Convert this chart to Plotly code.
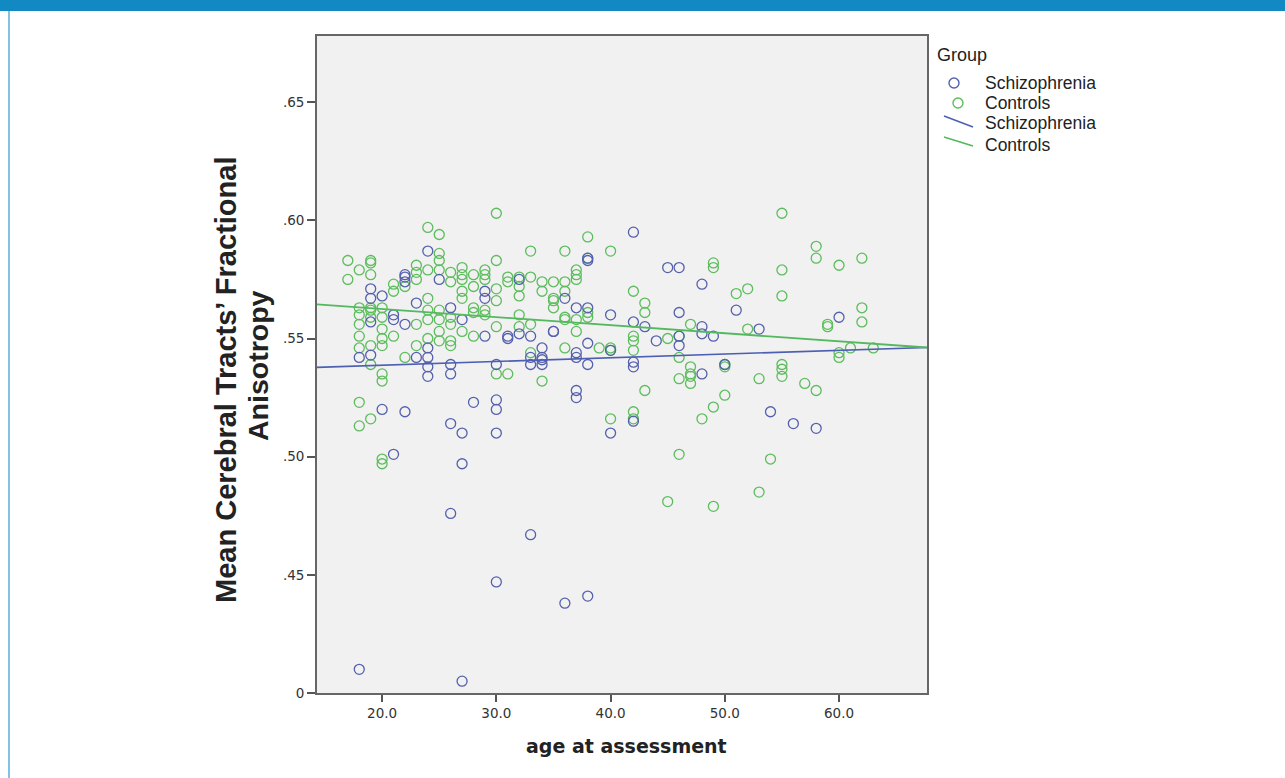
import plotly.graph_objects as go

# ---------------- data ----------------
schiz_age = [18, 18,
             19, 19, 19, 19,
             20, 20,
             21, 21, 21,
             22, 22, 22, 22, 22,
             23, 23,
             24, 24, 24, 24, 24,
             25,
             26, 26, 26, 26, 26,
             27, 27, 27, 27,
             28,
             29, 29, 29,
             30, 30, 30, 30, 30,
             31, 31,
             32, 32,
             33, 33, 33, 33,
             34, 34, 34, 34,
             35, 35,
             36, 36,
             37, 37, 37, 37, 37,
             38, 38, 38, 38, 38, 38,
             40, 40, 40,
             42, 42, 42, 42, 42,
             43, 44, 45,
             46, 46, 46, 46,
             48, 48, 48, 48,
             49, 50, 51, 53, 54, 56, 58, 60]
schiz_fa = [0.542, 0.410,
            0.571, 0.567, 0.557, 0.543,
            0.568, 0.520,
            0.560, 0.558, 0.501,
            0.577, 0.576, 0.574, 0.556, 0.519,
            0.565, 0.542,
            0.587, 0.546, 0.542, 0.538, 0.534,
            0.575,
            0.563, 0.539, 0.535, 0.514, 0.476,
            0.558, 0.510, 0.497, 0.405,
            0.523,
            0.570, 0.567, 0.551,
            0.539, 0.524, 0.520, 0.510, 0.447,
            0.551, 0.550,
            0.575, 0.552,
            0.551, 0.542, 0.539, 0.467,
            0.546, 0.542, 0.541, 0.539,
            0.553, 0.553,
            0.567, 0.438,
            0.563, 0.544, 0.542, 0.528, 0.525,
            0.583, 0.584, 0.563, 0.548, 0.539, 0.441,
            0.560, 0.545, 0.510,
            0.595, 0.557, 0.540, 0.538, 0.515,
            0.555, 0.549, 0.580,
            0.580, 0.561, 0.551, 0.547,
            0.573, 0.555, 0.552, 0.535,
            0.551, 0.539, 0.562, 0.554, 0.519, 0.514, 0.512, 0.559]

ctrl_age = [17, 17,
            18, 18, 18, 18, 18, 18, 18, 18,
            19, 19, 19, 19, 19, 19, 19, 19, 19,
            20, 20, 20, 20, 20, 20, 20, 20, 20,
            21, 21, 21,
            22, 22,
            23, 23, 23, 23, 23,
            24, 24, 24, 24, 24, 24,
            25, 25, 25, 25, 25, 25, 25, 25,
            26, 26, 26, 26, 26, 26,
            27, 27, 27, 27, 27, 27,
            28, 28, 28, 28, 28,
            29, 29, 29, 29, 29,
            30, 30, 30, 30, 30, 30,
            31, 31, 31,
            32, 32, 32, 32, 32,
            33, 33, 33, 33,
            34, 34, 34,
            35, 35, 35, 35,
            36, 36, 36, 36, 36, 36,
            37, 37, 37, 37, 37,
            38, 38, 38, 38,
            39,
            40, 40, 40, 40,
            42, 42, 42, 42, 42, 42,
            43, 43, 43,
            45, 45,
            46, 46, 46, 46,
            47, 47, 47, 47, 47,
            48,
            49, 49, 49, 49,
            50, 50, 50,
            51,
            52, 52,
            53, 53,
            54,
            55, 55, 55, 55, 55, 55,
            57,
            58, 58, 58,
            59, 59,
            60, 60, 60,
            61,
            62, 62, 62,
            63]
ctrl_fa = [0.583, 0.575,
           0.579, 0.563, 0.560, 0.556, 0.551, 0.546, 0.523, 0.513,
           0.583, 0.582, 0.577, 0.563, 0.562, 0.559, 0.547, 0.539, 0.516,
           0.563, 0.559, 0.554, 0.550, 0.547, 0.535, 0.532, 0.499, 0.497,
           0.573, 0.570, 0.551,
           0.572, 0.542,
           0.581, 0.578, 0.575, 0.556, 0.547,
           0.597, 0.579, 0.567, 0.562, 0.558, 0.550,
           0.594, 0.586, 0.583, 0.579, 0.562, 0.558, 0.553, 0.549,
           0.578, 0.574, 0.559, 0.556, 0.549, 0.547,
           0.580, 0.577, 0.575, 0.570, 0.567, 0.553,
           0.577, 0.572, 0.563, 0.561, 0.551,
           0.579, 0.577, 0.575, 0.562, 0.560,
           0.603, 0.583, 0.571, 0.566, 0.555, 0.535,
           0.576, 0.574, 0.535,
           0.576, 0.572, 0.568, 0.560, 0.555,
           0.587, 0.576, 0.556, 0.544,
           0.574, 0.570, 0.532,
           0.574, 0.567, 0.566, 0.563,
           0.587, 0.574, 0.570, 0.559, 0.558, 0.546,
           0.579, 0.577, 0.575, 0.558, 0.553,
           0.593, 0.584, 0.561, 0.559,
           0.546,
           0.587, 0.546, 0.545, 0.516,
           0.570, 0.551, 0.549, 0.545, 0.519, 0.516,
           0.565, 0.561, 0.528,
           0.550, 0.481,
           0.551, 0.542, 0.533, 0.501,
           0.556, 0.538, 0.535, 0.534, 0.531,
           0.516,
           0.582, 0.580, 0.521, 0.479,
           0.539, 0.538, 0.526,
           0.569,
           0.571, 0.554,
           0.533, 0.485,
           0.499,
           0.603, 0.579, 0.568, 0.539, 0.537, 0.534,
           0.531,
           0.589, 0.584, 0.528,
           0.556, 0.555,
           0.581, 0.544, 0.542,
           0.546,
           0.584, 0.563, 0.557,
           0.546]

# fit lines (linear fits per group, read at the axis ends)
fit_age = [14.3, 67.7]
schiz_fit = [0.5378, 0.5462]
ctrl_fit = [0.5644, 0.5462]

x_ticks = [20, 30, 40, 50, 60]
x_ticktext = ["20.0", "30.0", "40.0", "50.0", "60.0"]
y_ticks = [0.40, 0.45, 0.50, 0.55, 0.60, 0.65]
y_ticktext = ["0", ".45", ".50", ".55", ".60", ".65"]

group_labels = ["Schizophrenia", "Controls"]

# ---------------- styling ----------------
W, H = 1285, 778
L, R, T, B = 317, 927, 36, 693
BLUE = "#5560ad"
GREEN = "#5cbd5c"
BLUE_LINE = "#4d5fb3"
GREEN_LINE = "#52b95e"


def pxx(x):
    return (x - L) / (R - L)


def pxy(y):
    return (B - y) / (B - T)


fig = go.Figure()

fig.add_trace(go.Scatter(x=ctrl_age, y=ctrl_fa, mode="markers",
                         marker=dict(symbol="circle-open", size=10, color=GREEN,
                                     line=dict(width=1.3, color=GREEN)),
                         showlegend=False))
fig.add_trace(go.Scatter(x=schiz_age, y=schiz_fa, mode="markers",
                         marker=dict(symbol="circle-open", size=10, color=BLUE,
                                     line=dict(width=1.3, color=BLUE)),
                         showlegend=False))
fig.add_trace(go.Scatter(x=fit_age, y=schiz_fit, mode="lines",
                         line=dict(color=BLUE_LINE, width=1.6), showlegend=False))
fig.add_trace(go.Scatter(x=fit_age, y=ctrl_fit, mode="lines",
                         line=dict(color=GREEN_LINE, width=1.8), showlegend=False))

shapes = []
# header band
shapes.append(dict(type="rect", xref="paper", yref="paper",
                   x0=pxx(0), x1=pxx(W), y0=pxy(0), y1=pxy(11),
                   fillcolor="#1289c3", line=dict(width=0), layer="above"))
# left frame border
shapes.append(dict(type="line", xref="paper", yref="paper",
                   x0=pxx(9), x1=pxx(9), y0=pxy(11), y1=pxy(H),
                   line=dict(color="#5aaede", width=1.5)))

annotations = []
# legend
annotations.append(dict(text="Group", x=pxx(935), y=pxy(55), xref="paper", yref="paper",
                        xanchor="left", yanchor="middle", showarrow=False,
                        font=dict(family="Liberation Sans, Arial", size=18, color="#222")))
leg_y = [83, 103, 123, 145]
leg_txt = [group_labels[0], group_labels[1], group_labels[0], group_labels[1]]
for yy, tt in zip(leg_y, leg_txt):
    annotations.append(dict(text=tt, x=pxx(983), y=pxy(yy), xref="paper", yref="paper",
                            xanchor="left", yanchor="middle", showarrow=False,
                            font=dict(family="Liberation Sans, Arial", size=17.5, color="#222")))
# legend symbols
for cx, cy, col in [(954, 83, BLUE), (958, 103, GREEN)]:
    shapes.append(dict(type="circle", xref="paper", yref="paper",
                       xsizemode="pixel", ysizemode="pixel",
                       xanchor=pxx(cx), yanchor=pxy(cy),
                       x0=-5, x1=5, y0=-5, y1=5,
                       line=dict(color=col, width=1.4)))
shapes.append(dict(type="line", xref="paper", yref="paper",
                   x0=pxx(944), x1=pxx(973), y0=pxy(116), y1=pxy(127),
                   line=dict(color=BLUE_LINE, width=1.6)))
shapes.append(dict(type="line", xref="paper", yref="paper",
                   x0=pxx(944), x1=pxx(973), y0=pxy(137), y1=pxy(146),
                   line=dict(color=GREEN_LINE, width=1.6)))

# axis titles
annotations.append(dict(text="<b>age at assessment</b>", x=pxx(626), y=pxy(746),
                        xref="paper", yref="paper", xanchor="center", yanchor="middle",
                        showarrow=False,
                        font=dict(family="DejaVu Sans", size=19, color="#222")))
annotations.append(dict(text="<b>Mean Cerebral Tracts’ Fractional</b>", x=pxx(226), y=pxy(380),
                        xref="paper", yref="paper", xanchor="center", yanchor="middle",
                        textangle=-90, showarrow=False,
                        font=dict(family="Liberation Sans, Arial", size=29, color="#222")))
annotations.append(dict(text="<b>Anisotropy</b>", x=pxx(258), y=pxy(366),
                        xref="paper", yref="paper", xanchor="center", yanchor="middle",
                        textangle=-90, showarrow=False,
                        font=dict(family="Liberation Sans, Arial", size=28.5, color="#222")))

fig.update_layout(
    width=W, height=H,
    margin=dict(l=L, r=W - R, t=T, b=H - B, pad=0),
    paper_bgcolor="white",
    plot_bgcolor="#f1f1f1",
    shapes=shapes,
    annotations=annotations,
    showlegend=False,
)
fig.update_xaxes(range=[14.3, 67.7], tickvals=x_ticks, ticktext=x_ticktext,
                 ticks="outside", ticklen=7, tickwidth=1.5, tickcolor="#555",
                 showline=True, linecolor="#666", linewidth=1.8, mirror=True,
                 showgrid=False, zeroline=False,
                 tickfont=dict(family="DejaVu Sans", size=13.5, color="#333"))
fig.update_yaxes(range=[0.40, 0.678], tickvals=y_ticks, ticktext=y_ticktext,
                 ticks="outside", ticklen=8, tickwidth=1.5, tickcolor="#555",
                 showline=True, linecolor="#666", linewidth=1.8, mirror=True,
                 showgrid=False, zeroline=False,
                 tickfont=dict(family="DejaVu Sans", size=13.5, color="#333"))

fig.write_html("out.html", config={"displayModeBar": False},
               post_script="document.body.style.margin='0';")
